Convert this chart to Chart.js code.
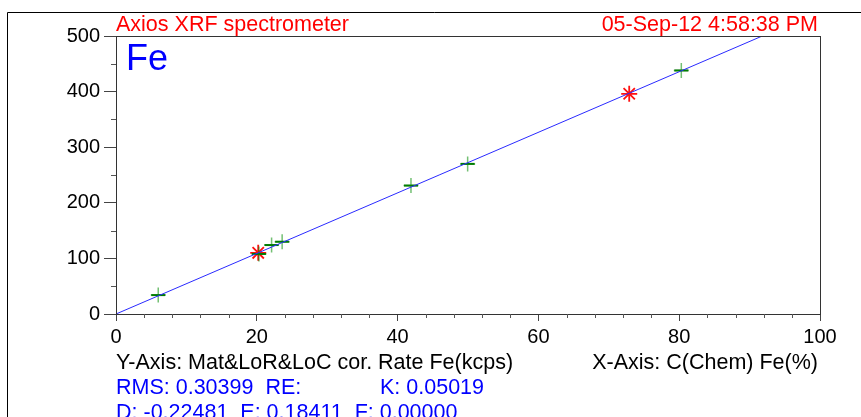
<!DOCTYPE html>
<html>
<head>
<meta charset="utf-8">
<script src="https://cdn.jsdelivr.net/npm/chart.js@4/dist/chart.umd.min.js"></script>
<style>
  html, body { margin: 0; padding: 0; background: #fff; }
  #wrap { width: 861px; height: 417px; position: relative; }
</style>
</head>
<body>
<div id="wrap"><canvas id="calib"></canvas></div>
<script>
// standards (green +), C(Chem) Fe % vs corrected rate
let stdX = [6.0, 20.3, 22.1, 23.6, 41.9, 49.95, 80.3];
let stdY = [34, 108, 124, 130, 231, 270, 438];
// flagged points (red stars)
let flagX = [20.2, 72.9];
let flagY = [110, 396];
// calibration line
let fitX = [0, 91.8];
let fitY = [0, 500];

let xTicks = [0, 20, 40, 60, 80, 100];
let yTicks = [0, 100, 200, 300, 400, 500];

const FONT = '"Liberation Sans", Arial, sans-serif';

function pts(xs, ys) {
    return xs.map(function (x, i) { return { x: x, y: ys[i] }; });
}

// frame, minor ticks and the text around the plot
const decor = {
    id: 'decor',
    afterDraw: function (chart) {
        const ctx = chart.ctx;
        const a = chart.chartArea;
        const xs = chart.scales.x, ys = chart.scales.y;
        ctx.save();
        // outer frame
        ctx.strokeStyle = '#000';
        ctx.lineWidth = 1;
        ctx.beginPath();
        ctx.moveTo(7.5, 417);
        ctx.lineTo(7.5, 12.5);
        ctx.lineTo(861, 12.5);
        ctx.stroke();
        // plot box
        ctx.strokeStyle = '#333';
        ctx.strokeRect(a.left + 0.5, a.top + 0.5, a.right - a.left, a.bottom - a.top);
        // minor ticks
        ctx.strokeStyle = '#555';
        ctx.beginPath();
        for (let v = 4; v < 100; v += 4) {
            if (v % 20 === 0) continue;
            const px = Math.round(xs.getPixelForValue(v)) + 0.5;
            ctx.moveTo(px, a.bottom);
            ctx.lineTo(px, a.bottom + 4);
        }
        for (let v = 50; v < 500; v += 100) {
            const py = Math.round(ys.getPixelForValue(v)) + 0.5;
            ctx.moveTo(a.left, py);
            ctx.lineTo(a.left - 5, py);
        }
        ctx.stroke();
        // header
        ctx.fillStyle = '#ff0000';
        ctx.font = '21.5px ' + FONT;
        ctx.textBaseline = 'alphabetic';
        ctx.textAlign = 'left';
        ctx.fillText('Axios XRF spectrometer', 116, 31);
        ctx.textAlign = 'right';
        ctx.fillText('05-Sep-12 4:58:38 PM', 818, 31);
        // element
        ctx.fillStyle = '#0000ff';
        ctx.textAlign = 'left';
        ctx.font = '36px ' + FONT;
        ctx.fillText('Fe', 126, 70);
        // footer
        ctx.font = '21.5px ' + FONT;
        ctx.fillStyle = '#000';
        ctx.fillText('Y-Axis: Mat&LoR&LoC cor. Rate Fe(kcps)', 116, 369);
        ctx.textAlign = 'right';
        ctx.fillText('X-Axis: C(Chem) Fe(%)', 818, 369);
        ctx.textAlign = 'left';
        ctx.fillStyle = '#0000ff';
        ctx.fillText('RMS: 0.30399  RE:', 116, 394);
        ctx.fillText('K: 0.05019', 380, 394);
        ctx.fillText('D: -0.22481  E: 0.18411  F: 0.00000', 116, 419);
        ctx.restore();
    }
};

function renderChart() {
    return new Chart(document.getElementById('calib'), {
        type: 'scatter',
        data: {
            datasets: [
                {
                    type: 'line',
                    data: pts(fitX, fitY),
                    borderColor: '#2a2aff',
                    borderWidth: 1,
                    pointRadius: 0,
                    fill: false
                },
                {
                    data: pts(stdX, stdY),
                    pointStyle: 'cross',
                    pointRadius: 7.5,
                    borderWidth: 1.5,
                    borderColor: 'rgba(0,140,0,0.55)',
                    backgroundColor: 'rgba(0,140,0,0.55)'
                },
                {
                    data: pts(stdX, stdY),
                    pointStyle: 'line',
                    pointRadius: 7,
                    borderWidth: 2,
                    borderColor: '#007000',
                    backgroundColor: '#007000'
                },
                {
                    data: pts(flagX, flagY),
                    pointStyle: 'star',
                    pointRadius: 8,
                    borderWidth: 1.8,
                    borderColor: '#ff1010',
                    backgroundColor: '#ff1010'
                }
            ]
        },
        options: {
            responsive: false,
            animation: false,
            layout: { padding: { top: 36, right: 41, left: 0, bottom: 0 } },
            plugins: { legend: { display: false }, tooltip: { enabled: false } },
            scales: {
                x: {
                    type: 'linear',
                    min: 0, max: 100,
                    afterFit: function (s) { s.height = 103; },
                    afterBuildTicks: function (s) { s.ticks = xTicks.map(function (v) { return { value: v }; }); },
                    border: { display: false },
                    grid: { drawOnChartArea: false, tickLength: 7, tickColor: '#444' },
                    ticks: { color: '#000', font: { family: FONT, size: 20 }, padding: 4, maxRotation: 0 }
                },
                y: {
                    min: 0, max: 500,
                    afterFit: function (s) { s.width = 116; },
                    afterBuildTicks: function (s) { s.ticks = yTicks.map(function (v) { return { value: v }; }); },
                    border: { display: false },
                    grid: { drawOnChartArea: false, tickLength: 12, tickColor: '#444' },
                    ticks: { color: '#000', font: { family: FONT, size: 20 }, padding: 4 }
                }
            }
        },
        plugins: [decor]
    });
}

document.getElementById('calib').width = 861;
document.getElementById('calib').height = 417;
let chart = renderChart();
</script>
</body>
</html>
